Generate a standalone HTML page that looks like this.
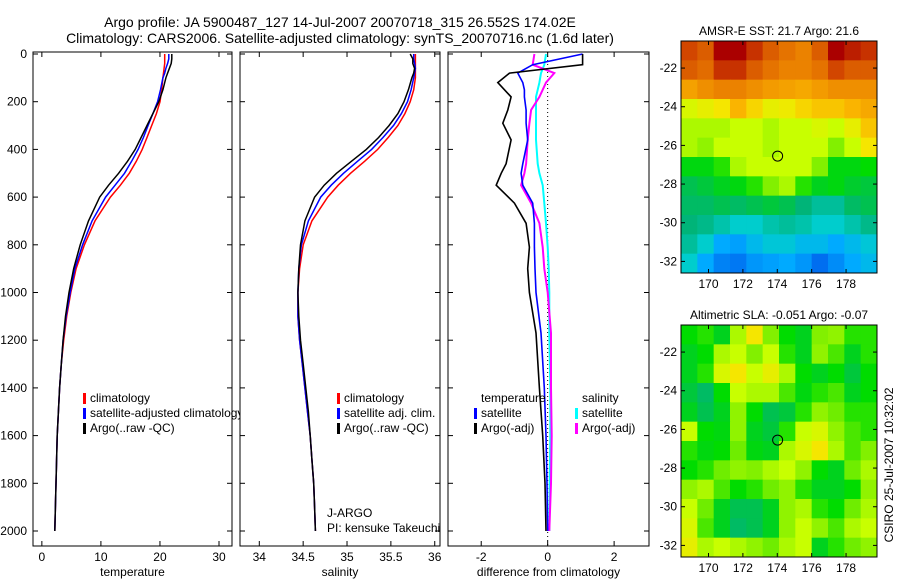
<!DOCTYPE html>
<html><head><meta charset="utf-8"><style>
html,body{margin:0;padding:0;background:#fff;}
svg{display:block;font-family:"Liberation Sans",sans-serif;}
</style></head><body>
<svg id="fig" width="900" height="580" viewBox="0 0 900 580" xmlns="http://www.w3.org/2000/svg">
<text x="340" y="27" font-size="14" text-anchor="middle">Argo profile: JA 5900487_127 14-Jul-2007 20070718_315 26.552S 174.02E</text>
<text x="340" y="43" font-size="14" text-anchor="middle">Climatology: CARS2006. Satellite-adjusted climatology: synTS_20070716.nc (1.6d later)</text>
<text transform="translate(893,465) rotate(-90)" font-size="12" text-anchor="middle">CSIRO 25-Jul-2007 10:32:02</text>
<g id="g"></g>
</svg>
<script>
// ---- profile data ----
const depths=[0,20,40,60,80,100,150,200,250,300,350,400,450,500,550,600,700,800,900,1000,1100,1200,1300,1400,1500,1600,1700,1800,1900,2000];
const climT=[20.8,20.8,20.8,20.7,20.6,20.5,20.3,20,19.4,18.6,17.8,17,16,14.8,13.3,11.6,9,7.2,5.8,4.9,4.2,3.7,3.3,3.0,2.8,2.6,2.5,2.4,2.3,2.2];
const satT=[21.5,21.5,21.3,21,20.8,20.5,20.1,19.6,18.8,18,17.2,16.3,15.2,14,12.4,10.8,8.5,6.9,5.6,4.8,4.1,3.6,3.3,3.0,2.8,2.6,2.5,2.4,2.3,2.2];
const argoT=[22,22,21.9,21.6,21.3,21,20.5,19.8,18.8,17.8,16.8,15.8,14.5,13,11.3,9.8,7.9,6.5,5.4,4.6,4.0,3.6,3.3,3.0,2.8,2.6,2.5,2.4,2.3,2.2];
const climS=[35.78,35.78,35.78,35.78,35.78,35.78,35.76,35.72,35.66,35.58,35.47,35.35,35.2,35.04,34.9,34.78,34.6,34.5,34.46,34.44,34.44,34.46,34.49,34.52,34.55,34.58,34.6,34.62,34.63,34.64];
const satS=[35.76,35.76,35.77,35.78,35.77,35.76,35.73,35.69,35.62,35.53,35.41,35.28,35.12,34.96,34.82,34.7,34.56,34.48,34.45,34.44,34.44,34.46,34.49,34.52,34.55,34.58,34.6,34.62,34.63,34.64];
const argoS=[35.72,35.75,35.75,35.77,35.76,35.74,35.7,35.65,35.58,35.48,35.36,35.22,35.05,34.88,34.74,34.63,34.52,34.47,34.45,34.44,34.45,34.47,34.5,34.53,34.56,34.58,34.6,34.62,34.63,34.64];
const diffDepths=[0,45,80,120,150,180,235,290,360,460,500,550,625,710,810,900,1000,1170,1400,1600,1800,2000];
const diffTargo=[1.05,1.05,-1.15,-1.5,-1.3,-1.1,-1.2,-1.35,-1.1,-1.25,-1.4,-1.55,-1.0,-0.65,-0.55,-0.6,-0.55,-0.35,-0.25,-0.15,-0.08,-0.05];
const diffTsat=[1.05,-0.45,-0.9,-0.75,-0.7,-0.7,-0.65,-0.65,-0.6,-0.75,-0.8,-0.75,-0.45,-0.4,-0.4,-0.38,-0.35,-0.2,-0.1,-0.05,-0.02,0];
const diffSargo=[-0.4,-0.45,0.2,-0.05,-0.15,-0.25,-0.5,-0.55,-0.6,-0.65,-0.7,-0.8,-0.5,-0.25,-0.15,-0.1,0,0.1,0.1,0.12,0.1,0.05];
const diffSsat=[-0.05,-0.1,-0.2,-0.25,-0.3,-0.35,-0.35,-0.35,-0.35,-0.3,-0.25,-0.15,-0.1,-0.05,0,0.03,0.05,0.05,0.08,0.08,0.06,0.05];
const depthTicks=[0,200,400,600,800,1000,1200,1400,1600,1800,2000];
const tTicks=[0,10,20,30];
const sTicks=[34,34.5,35,35.5,36];
const sTickLabels=["34","34.5","35","35.5","36"];
const dTicks=[-2,0,2];
// ---- map data (colormap index 0..1), rows north->south ----
const sstGrid=[
[0.88,0.85,0.95,0.95,0.9,0.85,0.82,0.8,0.85,0.95,0.92,0.9],
[0.85,0.83,0.9,0.9,0.85,0.82,0.8,0.8,0.82,0.88,0.85,0.85],
[0.75,0.78,0.8,0.8,0.78,0.76,0.75,0.74,0.76,0.78,0.78,0.78],
[0.62,0.64,0.66,0.72,0.68,0.64,0.65,0.68,0.7,0.7,0.72,0.74],
[0.58,0.58,0.58,0.6,0.6,0.58,0.6,0.6,0.62,0.6,0.64,0.7],
[0.58,0.56,0.6,0.6,0.6,0.58,0.6,0.6,0.6,0.55,0.6,0.66],
[0.47,0.47,0.5,0.58,0.6,0.6,0.6,0.6,0.55,0.47,0.47,0.48],
[0.42,0.44,0.46,0.47,0.5,0.55,0.58,0.5,0.46,0.47,0.45,0.44],
[0.4,0.4,0.42,0.4,0.42,0.44,0.42,0.38,0.36,0.36,0.4,0.42],
[0.38,0.37,0.35,0.33,0.33,0.35,0.36,0.35,0.33,0.33,0.35,0.37],
[0.36,0.33,0.28,0.27,0.3,0.32,0.32,0.3,0.3,0.28,0.3,0.32],
[0.33,0.28,0.24,0.23,0.26,0.27,0.28,0.26,0.22,0.25,0.28,0.3]];
const slaGrid=[
[0.48,0.5,0.46,0.58,0.66,0.55,0.48,0.46,0.55,0.56,0.5,0.5],
[0.46,0.48,0.58,0.6,0.55,0.6,0.5,0.46,0.56,0.52,0.46,0.5],
[0.46,0.5,0.62,0.66,0.6,0.64,0.58,0.48,0.46,0.48,0.44,0.48],
[0.44,0.4,0.48,0.6,0.58,0.58,0.52,0.47,0.5,0.52,0.46,0.48],
[0.46,0.42,0.46,0.56,0.48,0.42,0.44,0.5,0.56,0.54,0.5,0.5],
[0.6,0.48,0.47,0.56,0.46,0.44,0.5,0.6,0.62,0.56,0.52,0.5],
[0.5,0.47,0.48,0.54,0.47,0.46,0.58,0.62,0.66,0.58,0.52,0.55],
[0.48,0.5,0.54,0.56,0.55,0.58,0.6,0.56,0.48,0.46,0.54,0.58],
[0.56,0.58,0.52,0.48,0.5,0.54,0.56,0.5,0.46,0.46,0.48,0.56],
[0.6,0.54,0.46,0.42,0.42,0.46,0.56,0.58,0.5,0.48,0.54,0.58],
[0.62,0.52,0.46,0.4,0.42,0.46,0.56,0.6,0.56,0.52,0.58,0.6],
[0.64,0.58,0.6,0.58,0.56,0.54,0.58,0.6,0.46,0.5,0.54,0.56]];
const lonTicks=[170,172,174,176,178];
const latTicks=[-22,-24,-26,-28,-30,-32];
const floatLon=174.02, floatLat=-26.552;

const NS="http://www.w3.org/2000/svg";
const G=document.getElementById('g');
function mk(tag,attrs,parent){const e=document.createElementNS(NS,tag);for(const k in attrs)e.setAttribute(k,attrs[k]);(parent||G).appendChild(e);return e;}
const yD=d=>54+d*0.2385;
const TOP=52,BOT=546;

function panel(name,x0,x1,xmin,xmax,ticks,labels,title,yLabels){
  const sx=v=>x0+(v-xmin)/(xmax-xmin)*(x1-x0);
  const g=mk('g',{});
  
  
  const box=mk('rect',{x:x0,y:TOP,width:x1-x0,height:BOT-TOP,fill:'none',stroke:'#000','stroke-width':1},g);
  
  
  ticks.forEach((t,i)=>{const x=sx(t);
    mk('line',{x1:x,x2:x,y1:BOT,y2:BOT-5,stroke:'#000'},g);
    mk('line',{x1:x,x2:x,y1:TOP,y2:TOP+5,stroke:'#000'},g);
    const tx=mk('text',{x:x,y:BOT+15,'font-size':12,'text-anchor':'middle'},g);tx.textContent=labels[i];
    
    
  });
  depthTicks.forEach(d=>{const y=yD(d);
    mk('line',{x1:x0,x2:x0+5,y1:y,y2:y,stroke:'#000'},g);
    mk('line',{x1:x1,x2:x1-5,y1:y,y2:y,stroke:'#000'},g);
    if(yLabels){const t=mk('text',{x:x0-6,y:y+4,'font-size':12,'text-anchor':'end'},g);t.textContent=d;
      
      }
  });
  const at=mk('text',{x:(x0+x1)/2,y:576,'font-size':12,'text-anchor':'middle'},g);at.textContent=title;
  
  
  return {sx,g};
}
function line(p,vals,dep,color,w,name){
  const pts=vals.map((v,i)=>p.sx(v).toFixed(1)+','+yD(dep[i]).toFixed(1)).join(' ');
  const l=mk('polyline',{points:pts,fill:'none',stroke:color,'stroke-width':w},p.g);
  
  
}
function legend(p,x,y,items){
  items.forEach((it,i)=>{
    if(it.c){const r=mk('rect',{x:x,y:y+i*15-9,width:3,height:11,fill:it.c},p.g);
      
      }
    const t=mk('text',{x:x+7,y:y+i*15,'font-size':12},p.g);t.textContent=it.t;
    
    
  });
}
const defs=mk('defs',{});
const cp=mk('clipPath',{id:'c1'},defs);mk('rect',{x:33,y:0,width:207,height:580},cp);

const p1=panel('temperature-panel',33,232,-1.5,32.2,tTicks,tTicks.map(String),'temperature',true);
line(p1,climT,depths,'#f00',1.5,'temperature-climatology-line');
line(p1,satT,depths,'#00f',1.5,'temperature-satellite-line');
line(p1,argoT,depths,'#000',1.5,'temperature-argo-line');
const lg1=mk('g',{'clip-path':'url(#c1)'},p1.g);
legend({g:lg1},83,402,[{c:'#f00',t:'climatology'},{c:'#00f',t:'satellite-adjusted climatology'},{c:'#000',t:'Argo(..raw -QC)'}]);

const p2=panel('salinity-panel',240,440,33.78,36.06,sTicks,sTickLabels,'salinity',false);
line(p2,climS,depths,'#f00',1.5,'salinity-climatology-line');
line(p2,satS,depths,'#00f',1.5,'salinity-satellite-line');
line(p2,argoS,depths,'#000',1.5,'salinity-argo-line');
legend(p2,337,402,[{c:'#f00',t:'climatology'},{c:'#00f',t:'satellite adj. clim.'},{c:'#000',t:'Argo(..raw -QC)'}]);
legend(p2,320,517,[{t:'J-ARGO'},{t:'PI: kensuke Takeuchi'}]);

const p3=panel('difference-panel',448,649,-3.0,3.05,dTicks,dTicks.map(String),'difference from climatology',false);
const zl=mk('line',{x1:p3.sx(0),x2:p3.sx(0),y1:TOP,y2:BOT,stroke:'#000','stroke-dasharray':'1,3'},p3.g);


line(p3,diffSsat,diffDepths,'#0ff',2,'salinity-satellite-diff-line');
line(p3,diffSargo,diffDepths,'#f0f',2,'salinity-argo-diff-line');
line(p3,diffTsat,diffDepths,'#00f',1.6,'temperature-satellite-diff-line');
line(p3,diffTargo,diffDepths,'#000',1.6,'temperature-argo-diff-line');
legend(p3,474,402,[{t:'temperature'},{c:'#00f',t:'satellite'},{c:'#000',t:'Argo(-adj)'}]);
legend(p3,575,402,[{t:'salinity'},{c:'#0ff',t:'satellite'},{c:'#f0f',t:'Argo(-adj)'}]);

const cmapStops=[[0.15,0,60,200],[0.22,0,110,240],[0.28,0,170,255],[0.33,0,205,205],[0.38,0,180,120],[0.44,0,200,60],[0.48,0,220,0],[0.55,130,240,0],[0.6,200,255,0],[0.66,245,230,0],[0.72,250,180,0],[0.8,235,130,0],[0.88,210,70,0],[0.95,170,0,0]];
function cmap(v){
  if(v<=cmapStops[0][0]){const s=cmapStops[0];return `rgb(${s[1]},${s[2]},${s[3]})`;}
  for(let i=1;i<cmapStops.length;i++){const a=cmapStops[i-1],b=cmapStops[i];
    if(v<=b[0]){const t=(v-a[0])/(b[0]-a[0]);
      return `rgb(${Math.round(a[1]+t*(b[1]-a[1]))},${Math.round(a[2]+t*(b[2]-a[2]))},${Math.round(a[3]+t*(b[3]-a[3]))})`;}}
  const s=cmapStops[cmapStops.length-1];return `rgb(${s[1]},${s[2]},${s[3]})`;
}
function map(name,top,bot,grid,title){
  const x0=681,x1=877,lon0=168.4,lon1=179.8,lat0=-20.6,lat1=-32.6;
  const sx=l=>x0+(l-lon0)/(lon1-lon0)*(x1-x0);
  const sy=l=>top+(l-lat0)/(lat1-lat0)*(bot-top);
  const g=mk('g',{});
  
  
  const nr=grid.length,nc=grid[0].length;
  const cw=(lon1-lon0)/nc,ch=(lat1-lat0)/nr;
  grid.forEach((row,i)=>row.forEach((v,j)=>{
    const xa=sx(lon0+j*cw),xb=sx(lon0+(j+1)*cw),ya=sy(lat0+i*ch),yb=sy(lat0+(i+1)*ch);
    const c=mk('rect',{x:xa,y:ya,width:xb-xa+0.5,height:yb-ya+0.5,fill:cmap(v)},g);
    
    
  }));
  const f=mk('rect',{x:x0,y:top,width:x1-x0,height:bot-top,fill:'none',stroke:'#000'},g);
  
  
  lonTicks.forEach(l=>{const x=sx(l);
    mk('line',{x1:x,x2:x,y1:bot,y2:bot-4,stroke:'#000'},g);
    mk('line',{x1:x,x2:x,y1:top,y2:top+4,stroke:'#000'},g);
    const t=mk('text',{x:x,y:bot+15,'font-size':12,'text-anchor':'middle'},g);t.textContent=l;
    
    });
  latTicks.forEach(l=>{const y=sy(l);
    mk('line',{x1:x0,x2:x0+4,y1:y,y2:y,stroke:'#000'},g);
    mk('line',{x1:x1,x2:x1-4,y1:y,y2:y,stroke:'#000'},g);
    const t=mk('text',{x:x0-4,y:y+4,'font-size':12,'text-anchor':'end'},g);t.textContent=l;
    
    });
  const c=mk('circle',{cx:sx(floatLon),cy:sy(floatLat),r:5,fill:'none',stroke:'#000','stroke-width':1},g);
  
  
  const t=mk('text',{x:(x0+x1)/2,y:top-6,'font-size':12,'text-anchor':'middle'},g);t.textContent=title;
  
  
}
map('sst-map',41,273,sstGrid,'AMSR-E SST: 21.7 Argo: 21.6');
map('sla-map',325,557,slaGrid,'Altimetric SLA: -0.051 Argo: -0.07');
</script>
</body></html>
